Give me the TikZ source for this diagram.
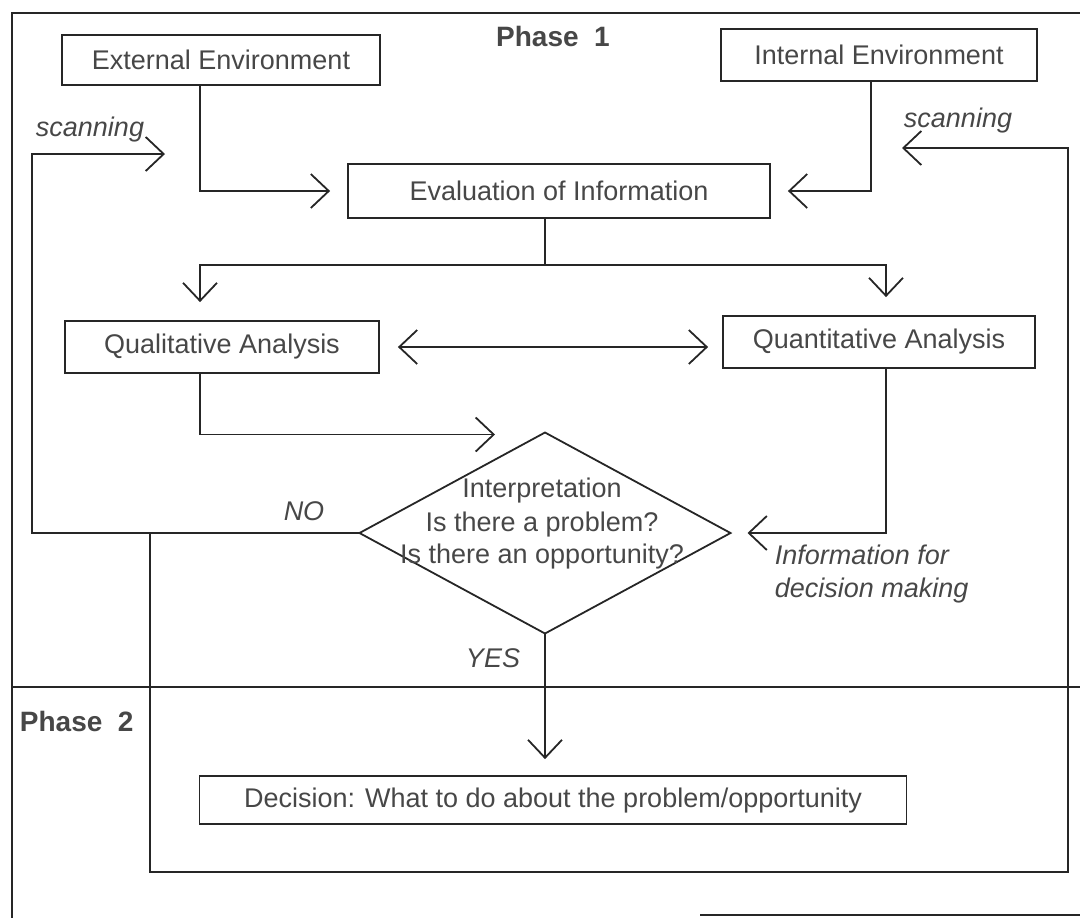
\documentclass[tikz,border=0pt]{standalone}
\usepackage{fontspec}
\setmainfont{Liberation Sans}
\usetikzlibrary{arrows.meta,calc,shapes.geometric}

\begin{document}
\begin{tikzpicture}[x=0.5pt,y=-0.5pt,line width=0.9pt,color=black!85,
      every node/.style={inner sep=2pt,text=black!72,
        font=\fontsize{13.5}{16.5}\selectfont},
      >={Straight Barb[length=9pt,width=17pt]},
      box/.style={draw,minimum height=25pt},
      decide/.style={draw,diamond,inner sep=0pt,outer sep=0pt,
        minimum width=185.5pt,minimum height=100.5pt},
      tag/.style={font=\fontsize{13.5}{16.5}\selectfont\itshape},
      phase/.style={font=\fontsize{14}{16}\selectfont\bfseries}]
  \useasboundingbox(0,0)rectangle(1080,918);
  \clip(0,0)rectangle(1080,918);
  % frame and the two phases
  \draw(1080,13)--(12,13)--(12,918)(700,915)--(1080,915);
  \draw(12,687)--(1080,687);
  \node[phase](ph1)at(553,36){Phase\ \ 1};
  \node[phase,anchor=west](ph2)at(15,721){Phase\ \ 2};
  % boxes
  \node[box,minimum width=159pt](ext)at(221,60){External Environment};
  \node[box,minimum width=158pt,minimum height=26pt](int)at(879,55)
    {Internal Environment};
  \node[box,minimum width=211pt,minimum height=27pt](eval)at(559,191)
    {Evaluation of Information};
  \node[box,minimum width=157pt,minimum height=26pt](qual)at(222,347)
    {Qualitative Analysis};
  \node[box,minimum width=156pt,minimum height=26pt](quant)at(879,342)
    {Quantitative Analysis};
  \node[decide](ask)at(545,533){};
  \node[align=center](asktxt)at(542,524)
    {Interpretation\\Is there a problem?\\Is there an opportunity?};
  \node[box,minimum width=353.5pt,minimum height=24pt](dec)at(553,800)
    {Decision: What to do about the problem/opportunity};
  % turning points
  \coordinate(xl)at(200,0);
  \coordinate(xi)at(871,0);
  \coordinate(xr)at(886,0);
  \coordinate(xb)at(150,0);
  \coordinate(split)at(0,265);
  \coordinate(loopL)at(32,154);
  \coordinate(scanL)at(165,154);
  \coordinate(loopB)at(1068,872);
  \coordinate(scanR)at(902,148);
  \coordinate(askin)at($(ask.north)+(-50,2)$);
  % connectors
  \draw[->,shorten >=8.5pt](ext.south-|xl)|-(eval.west);
  \draw[->,shorten >=8.5pt](int.south-|xi)|-(eval.east);
  \draw(eval.south-|ask)--(ask|-split);
  \draw[->,shorten >=9pt](ask|-split)-|(qual.north-|xl);
  \draw[->,shorten >=9pt](ask|-split)-|(quant.north-|xr);
  \draw[<->,shorten <=9pt,shorten >=7pt](qual.east)--(qual.east-|quant.west);
  \draw[->](qual.south-|xl)|-(askin);
  \draw[->,shorten >=8.5pt](quant.south-|xr)|-(ask.east);
  \draw[->](ask.west)-|(loopL)--(scanL);
  \draw[->](ask.west-|xb)|-(loopB)|-(scanR);
  \draw[->,shorten >=8pt](ask.south)--(dec.north-|ask.south);
  % labels
  \node[tag](scan1)at(90,130){scanning};
  \node[tag](scan2)at(958,121){scanning};
  \node[tag](no)at(304,511){NO};
  \node[tag](yes)at(493,658){YES};
  \node[tag,align=left,anchor=west](info)at(770,574)
    {Information for\\decision making};
\end{tikzpicture}
\end{document}
